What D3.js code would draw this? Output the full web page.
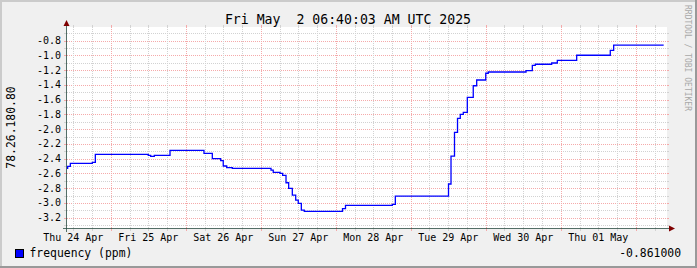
<!DOCTYPE html>
<html>
<head>
<meta charset="utf-8">
<script src="https://cdn.jsdelivr.net/npm/d3@7"></script>
<style>
  html, body { margin: 0; padding: 0; background: #f0f0f0; }
  svg { display: block; }
  text { font-family: "DejaVu Sans Mono", monospace; }
</style>
</head>
<body>
<svg id="chart" width="697" height="268"></svg>
<script>
// ---- data ----
const title = "Fri May  2 06:40:03 AM UTC 2025";
const unitLabel = "78.26.180.80";
const watermark = "RRDTOOL / TOBI OETIKER";
const seriesName = "frequency (ppm)";
const lastValueLabel = "-0.861000";

const times = [
  "2025-04-24T10:00","2025-04-24T10:13","2025-04-24T11:04","2025-04-24T18:06","2025-04-24T19:04",
  "2025-04-25T12:00","2025-04-25T12:47","2025-04-25T13:56","2025-04-25T18:58",
  "2025-04-26T05:50","2025-04-26T08:30","2025-04-26T11:11","2025-04-26T12:00","2025-04-26T13:06","2025-04-26T14:54",
  "2025-04-27T03:17","2025-04-27T04:00","2025-04-27T06:10","2025-04-27T07:00","2025-04-27T08:05","2025-04-27T08:56",
  "2025-04-27T10:06","2025-04-27T11:11","2025-04-27T12:00","2025-04-27T12:59","2025-04-27T13:56",
  "2025-04-28T02:10","2025-04-28T03:07","2025-04-28T18:06","2025-04-28T19:04",
  "2025-04-29T12:05","2025-04-29T12:53","2025-04-29T14:00","2025-04-29T14:58","2025-04-29T15:51","2025-04-29T16:49",
  "2025-04-29T18:06","2025-04-29T20:00","2025-04-29T21:06",
  "2025-04-30T00:00","2025-04-30T00:48","2025-04-30T12:53","2025-04-30T14:54","2025-04-30T15:51","2025-04-30T21:06","2025-04-30T22:54",
  "2025-05-01T05:06","2025-05-01T15:51","2025-05-01T16:56","2025-05-02T08:56"
];
const freq = [
  -2.532,-2.504,-2.464,-2.450,-2.342,
  -2.355,-2.369,-2.355,-2.287,
  -2.328,-2.401,-2.428,-2.500,-2.521,-2.532,
  -2.555,-2.586,-2.599,-2.626,-2.727,-2.803,
  -2.894,-2.962,-3.007,-3.098,-3.115,
  -3.077,-3.033,-3.020,-2.907,
  -2.744,-2.365,-2.043,-1.854,-1.799,-1.772,
  -1.569,-1.412,-1.334,
  -1.243,-1.226,-1.208,-1.135,-1.121,-1.104,-1.067,
  -0.999,-0.932,-0.861,-0.861
];
const yTickValues = [-0.8,-1.0,-1.2,-1.4,-1.6,-1.8,-2.0,-2.2,-2.4,-2.6,-2.8,-3.0,-3.2];
const yDomain = [-3.34, -0.616];
const xDomain = ["2025-04-24T10:00","2025-05-02T10:00"];

// ---- layout ----
const W = 697, H = 268;
const X0 = 67, X1 = 667, Y0 = 228, Y1 = 27;
const parse = s => new Date(s + ":00Z");

const svg = d3.select("#chart");
const x = d3.scaleUtc().domain(xDomain.map(parse)).range([X0, X1]);
const y = d3.scaleLinear().domain(yDomain).range([Y0, Y1]);

// background + frame
svg.append("rect").attr("x",0).attr("y",0).attr("width",W).attr("height",H).attr("fill","#f0f0f0");
svg.append("rect").attr("x",0).attr("y",0).attr("width",W).attr("height",2).attr("fill","#cbcbcb");
svg.append("rect").attr("x",0).attr("y",0).attr("width",2).attr("height",H).attr("fill","#cbcbcb");
svg.append("rect").attr("x",0).attr("y",H-2).attr("width",W).attr("height",2).attr("fill","#999999");
svg.append("rect").attr("x",W-2).attr("y",0).attr("width",2).attr("height",H).attr("fill","#999999");

// canvas
svg.append("rect").attr("x",X0).attr("y",Y1).attr("width",X1-X0).attr("height",Y0-Y1).attr("fill","#ffffff");

const minorCol = "#d2d2d2", majorCol = "#f5aaaa";
const g = svg.append("g").attr("shape-rendering","crispEdges");

// horizontal minor grid every 0.1
const yMinor = d3.range(-33, -6).map(i => i/10).filter(v => Math.abs(Math.round(v*10)) % 2 === 1);
const yMajor = yTickValues;
function hline(v, col){
  const yy = Math.round(y(v)) + 0.5;
  g.append("line").attr("x1",X0).attr("x2",X1).attr("y1",yy).attr("y2",yy)
    .attr("stroke",col).attr("stroke-dasharray","1,1");
  g.append("line").attr("x1",X0-3).attr("x2",X0).attr("y1",yy).attr("y2",yy).attr("stroke",col);
  g.append("line").attr("x1",X1).attr("x2",X1+2).attr("y1",yy).attr("y2",yy).attr("stroke",col);
}
yMinor.forEach(v => hline(v, minorCol));
yMajor.forEach(v => hline(v, majorCol));

// vertical grid: minor every 6h, major at midnight
const xMinor = d3.utcHour.every(6).range(x.domain()[0], x.domain()[1]).filter(d => d.getUTCHours() !== 0);
const xMajor = d3.utcDay.range(x.domain()[0], x.domain()[1]);
function vline(d, col){
  const xx = Math.round(x(d)) + 0.5;
  g.append("line").attr("x1",xx).attr("x2",xx).attr("y1",Y1).attr("y2",Y0)
    .attr("stroke",col).attr("stroke-dasharray","1,1");
  g.append("line").attr("x1",xx).attr("x2",xx).attr("y1",Y0).attr("y2",Y0+3).attr("stroke",col);
  g.append("line").attr("x1",xx).attr("x2",xx).attr("y1",Y1-2).attr("y2",Y1).attr("stroke",col);
}
xMinor.forEach(d => vline(d, minorCol));
xMajor.forEach(d => vline(d, majorCol));

// axes
const axisCol = "#2c4d43", arrowCol = "#7f0000";
g.append("line").attr("x1",X0-4).attr("x2",X1+4).attr("y1",Y0+0.5).attr("y2",Y0+0.5).attr("stroke",axisCol).attr("stroke-opacity",0.8);
g.append("line").attr("x1",X0-0.5).attr("x2",X0-0.5).attr("y1",Y0+4).attr("y2",Y1-4).attr("stroke",axisCol).attr("stroke-opacity",0.8);
svg.append("path").attr("d",`M${X1+2},${Y0-2.5} L${X1+8},${Y0+0.5} L${X1+2},${Y0+3.5} Z`).attr("fill",arrowCol);
svg.append("path").attr("d",`M${X0-3.5},${Y1-1} L${X0-0.5},${Y1-7} L${X0+2.5},${Y1-1} Z`).attr("fill",arrowCol);

// y tick labels
svg.append("g").selectAll("text").data(yTickValues).join("text")
  .attr("x", 61).attr("y", d => y(d)).attr("dy","0.35em")
  .attr("text-anchor","end").attr("font-size","10px").attr("fill","#000")
  .text(d => d.toFixed(1));

// x tick labels at noon
const fmt = d3.utcFormat("%a %d %b");
const noons = d3.utcDay.range(d3.utcDay.floor(x.domain()[0]), x.domain()[1])
  .map(d => d3.utcHour.offset(d, 12))
  .filter(d => x(d) >= X0 - 10 && x(d) <= X1 - 30);
svg.append("g").selectAll("text").data(noons).join("text")
  .attr("x", d => x(d)).attr("y", 241)
  .attr("text-anchor","middle").attr("font-size","10px").attr("fill","#000")
  .text(d => fmt(d));

// data line
const pts = times.map((t,i) => ({t: parse(t), v: freq[i]}));
const line = d3.line().x(d => x(d.t)).y(d => y(d.v)).curve(d3.curveStepAfter);
svg.append("path").datum(pts).attr("d", line)
  .attr("fill","none").attr("stroke","#0000ff").attr("stroke-width",1.3);

// title
svg.append("text").attr("x", 348).attr("y", 24).attr("text-anchor","middle")
  .attr("font-size","13.2px").attr("fill","#000").style("white-space","pre").text(title);

// unit label
svg.append("text").attr("transform","translate(15,127.5) rotate(-90)")
  .attr("text-anchor","middle").attr("font-size","11.4px").attr("fill","#000").text(unitLabel);

// watermark
svg.append("text").attr("transform","translate(684.5,5) rotate(90)")
  .attr("text-anchor","start").attr("font-size","8px").attr("fill","#a8a8a8").text(watermark);

// legend
svg.append("rect").attr("x",15.5).attr("y",249.5).attr("width",8).attr("height",8)
  .attr("fill","#0000ff").attr("stroke","#000").attr("stroke-width",1);
svg.append("text").attr("x",29.5).attr("y",257).attr("font-size","11.4px").attr("fill","#000").text(seriesName);
svg.append("text").attr("x",681).attr("y",257).attr("text-anchor","end").attr("font-size","11.4px").attr("fill","#000").text(lastValueLabel);
</script>
</body>
</html>
